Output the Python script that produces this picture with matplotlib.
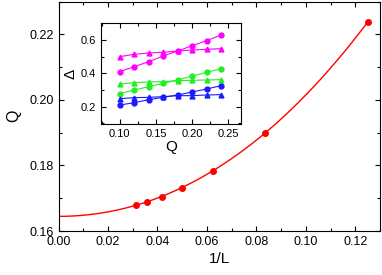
import matplotlib
matplotlib.use("Agg")
import matplotlib.pyplot as plt
import numpy as np
from matplotlib.ticker import MultipleLocator

plt.rcParams["font.family"] = ["Liberation Sans", "DejaVu Sans"]

# main panel: Q versus 1/L
inv_L = [1 / 32, 1 / 28, 1 / 24, 1 / 20, 1 / 16, 1 / 12, 1 / 8]
Q_main = [0.1679, 0.1689, 0.1705, 0.1732, 0.1784, 0.1898, 0.2237]

# inset: Delta versus Q
Q_inset = [0.10, 0.12, 0.14, 0.16, 0.18, 0.20, 0.22, 0.24]
mag_circ = [0.41, 0.44, 0.47, 0.504, 0.534, 0.566, 0.596, 0.63]
mag_tri = [0.50, 0.514, 0.522, 0.526, 0.534, 0.54, 0.544, 0.548]
grn_circ = [0.278, 0.30, 0.32, 0.34, 0.36, 0.384, 0.406, 0.428]
grn_tri = [0.336, 0.344, 0.348, 0.35, 0.356, 0.358, 0.36, 0.362]
blu_circ = [0.21, 0.224, 0.242, 0.256, 0.27, 0.288, 0.306, 0.326]
blu_tri = [0.248, 0.254, 0.256, 0.26, 0.266, 0.266, 0.27, 0.272]


def style_ticks(ax, size):
    ax.tick_params(which="both", direction="in", top=True, right=True,
                   labelsize=size, width=0.8)
    ax.tick_params(which="major", length=3.5)
    ax.tick_params(which="minor", length=2)


fig = plt.figure(figsize=(3.82, 2.75), dpi=100)
ax = fig.add_axes([58.5 / 382, 44 / 275, 321.5 / 382, 229.5 / 275])

# fit Q = Q0 + b (1/L)^2 + c (1/L)^3 through the data for the extrapolation curve
x = np.asarray(inv_L)
A = np.column_stack([np.ones_like(x), x ** 2, x ** 3])
coef, *_ = np.linalg.lstsq(A, np.asarray(Q_main), rcond=None)
xs = np.linspace(0, inv_L[-1], 200)
ax.plot(xs, coef[0] + coef[1] * xs ** 2 + coef[2] * xs ** 3, color="red", lw=1)
ax.plot(inv_L, Q_main, "o", color="red", ms=4)

ax.set_xlim(0, 0.13)
ax.set_ylim(0.16, 0.23)
ax.xaxis.set_major_locator(MultipleLocator(0.02))
ax.xaxis.set_minor_locator(MultipleLocator(0.01))
ax.yaxis.set_major_locator(MultipleLocator(0.02))
ax.yaxis.set_minor_locator(MultipleLocator(0.01))
ax.xaxis.set_major_formatter(lambda v, p: f"{v:.2f}")
ax.yaxis.set_major_formatter(lambda v, p: f"{v:.2f}")
style_ticks(ax, 9)
ax.set_xlabel("1/L", fontsize=11, labelpad=3)
ax.set_ylabel("Q", fontsize=11.5, labelpad=6)

ins = fig.add_axes([101 / 382, 151 / 275, 139.7 / 382, 100.7 / 275])
series = [
    (mag_circ, "magenta", "o"),
    (mag_tri, "magenta", "^"),
    (grn_circ, "#22ee22", "o"),
    (grn_tri, "#22ee22", "^"),
    (blu_circ, "#1a1aff", "o"),
    (blu_tri, "#1a1aff", "^"),
]
for vals, col, mk in series:
    ins.plot(Q_inset, vals, "-", marker=mk, color=col, ms=3.5, lw=0.8)

ins.set_xlim(0.074, 0.267)
ins.set_ylim(0.096, 0.70)
ins.xaxis.set_major_locator(MultipleLocator(0.05))
ins.xaxis.set_minor_locator(MultipleLocator(0.025))
ins.yaxis.set_major_locator(MultipleLocator(0.2))
ins.yaxis.set_minor_locator(MultipleLocator(0.1))
ins.xaxis.set_major_formatter(lambda v, p: f"{v:.2f}")
ins.yaxis.set_major_formatter(lambda v, p: f"{v:.1f}")
style_ticks(ins, 8)
ins.set_xlabel("Q", fontsize=11, labelpad=1)
ins.set_ylabel("Δ", fontsize=11, labelpad=2)

fig.savefig("out.png", dpi=100)
